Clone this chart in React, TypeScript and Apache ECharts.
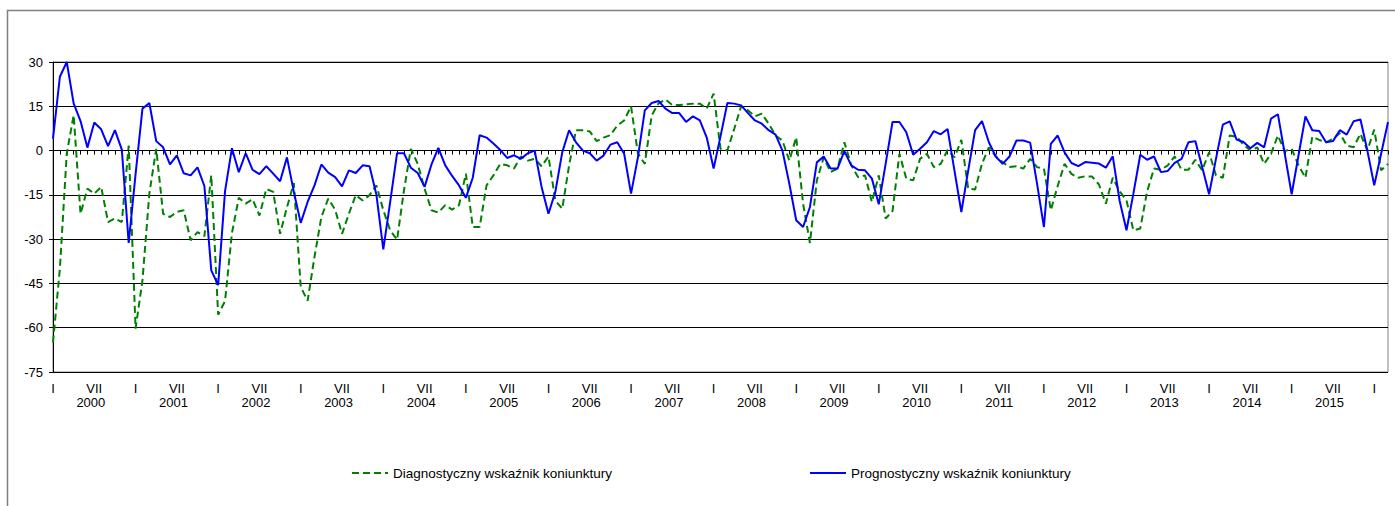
import React, { useEffect, useRef } from "react";
import * as echarts from "echarts";

// Years shown under the axis and month labels
const years = [2000, 2001, 2002, 2003, 2004, 2005, 2006, 2007, 2008, 2009, 2010, 2011, 2012, 2013, 2014, 2015];
const romanMonths = ["I", "II", "III", "IV", "V", "VI", "VII", "VIII", "IX", "X", "XI", "XII"];
const shownMonths = ["I", "VII"];
const firstYear = 2000;
const monthCount = 195; // I 2000 .. III 2016

const seriesNames = ["Diagnostyczny wskaźnik koniunktury", "Prognostyczny wskaźnik koniunktury"];

// Diagnostyczny (green, dashed)
const diagnostyczny = [
  -65, -40, -1, 12, -21.4, -12.9, -14.6, -12.3, -24.2, -23, -24.2, 1.7,
  -60.3, -44, -14.6, 0.6, -21.4, -22.5, -20.8, -20.2, -30.4, -27.6, -29, -8.4,
  -55.6, -51, -28, -16, -18, -16.5, -22, -13, -14, -28.2, -19.2, -11,
  -46.2, -50.9, -36, -22.5, -16.3, -20, -28.2, -21.4, -15.1, -16.9, -15.1, -11.8,
  -20.2, -27, -30.2, -13.5, 0.6, -4.5, -12.9, -20.2, -21, -18.5, -20, -18.5,
  -7.8, -25.9, -25.9, -11.8, -8.4, -4.5, -5, -6.1, -2, -3.4, -2.8, -5.3,
  -2, -16.9, -19.7, -5, 6.9, 6.9, 6.5, 3.2, 4.4, 5.2, 8.5, 10.2,
  15, -1, -4.5, 11.9, 16, 17.3, 15.4, 15.4, 15.7, 15.9, 15.9, 14.2,
  19.3, 0.6, 0, 7.4, 15, 13.6, 11.6, 12.5, 9.1, 5.1, 3.4, -3.4,
  4.5, -18, -31.3, -10.1, -2.3, -7.3, -6.1, 2.8, -5, -9, -8.4, -17.4,
  -8.4, -23, -20.5, -1.1, -9.5, -10.1, -2.8, -1.1, -5.6, -4.5, 0.2, -2.3,
  3.6, -12.9, -13.2, -4.5, 1.1, -2, -3.9, -5.6, -5.3, -6.1, -2.8, -5.6,
  -6.1, -20.2, -12, -4.5, -7.9, -9.2, -8.7, -8.8, -11.5, -18, -9.2, -13.8,
  -16.9, -27, -26.4, -13.8, -6.1, -6.5, -5, -2, -6.5, -6.5, -3.1, -6.7,
  -0.6, -8.4, -9.2, 5.1, 4.7, 2, 0, 1.1, -4.5, -1.1, 5.1, -0.2,
  0.6, -5, -9.2, 4.7, 3.6, 2.8, 4, 5.9, 1.7, 1.1, 5.7, 0,
  7.1, -6.7, -4.5,
];

// Prognostyczny (blue, solid)
const prognostyczny = [
  4, 25, 30, 16, 10, 1, 9.5, 7.2, 1.5, 6.9, 0.3, -31.3,
  -8, 14.2, 16.1, 3.2, 1.1, -4.7, -1.6, -7.7, -8.4, -5.7, -12, -40.6,
  -45.6, -13.8, 0.8, -7.3, -0.9, -6.5, -8, -5.3, -7.8, -10.4, -2.3, -14,
  -24.5, -17.4, -11.8, -4.7, -7.5, -9, -12.1, -6.7, -7.6, -5, -5.3, -15,
  -33.5, -17.4, -0.9, -0.9, -5.8, -7.6, -12.3, -4.7, 0.9, -5, -8.6, -11.8,
  -16, -9.2, 5.2, 4.4, 2.4, 0.2, -2.5, -1.6, -2.8, -0.9, 0, -12.3,
  -21.4, -14, -0.6, 6.9, 2.8, 0, -0.9, -3.4, -1.7, 2, 2.8, -1.1,
  -14.6, -2.3, 13.6, 16.1, 16.8, 14.2, 12.7, 12.7, 9.7, 11.6, 10.2, 4.4,
  -6.1, 4.8, 16.1, 15.9, 15.3, 12.7, 10.2, 9.1, 6.9, 5.4, 0, -11.2,
  -23.6, -25.9, -19.1, -4, -2, -6.1, -6.1, -0.2, -5, -6.5, -6.7, -9.5,
  -18.2, -4.5, 9.7, 9.7, 6.2, -1.4, 0.6, 2.8, 6.6, 5.5, 7.3, -6.8,
  -20.8, -6.7, 6.9, 10, 2.8, -2, -4.5, -2, 3.4, 3.4, 2.7, -11.2,
  -25.9, 2.3, 5.1, -0.6, -4.2, -5.3, -3.9, -4.1, -4.4, -5.8, -1.9, -17,
  -27, -14.6, -1.4, -3.1, -2, -7.3, -6.9, -4.2, -2.8, 2.8, 3.2, -5.6,
  -14.8, -2.8, 8.8, 9.9, 3.7, 2.9, 0.8, 2.6, 1.1, 10.8, 12.3, -1.1,
  -14.8, -1.6, 11.6, 6.9, 6.6, 2.8, 3.2, 6.9, 5.4, 9.9, 10.5, 0,
  -11.8, -1.1, 9.7,
];

const yTicks = { min: -75, max: 30, interval: 15 };

const FONT = "'Liberation Sans', Arial, sans-serif";

export default function App() {
  const ref = useRef<HTMLDivElement>(null);

  useEffect(() => {
    if (!ref.current) return;
    const chart = echarts.init(ref.current, undefined, { renderer: "svg" });

    const categories: string[] = [];
    for (let i = 0; i < monthCount; i++) {
      categories.push(`${firstYear + Math.floor(i / 12)}-${romanMonths[i % 12]}`);
    }
    const yearCenters = years.map((_, i) => i * 12 + 5.5);

    const legendBase = {
      top: 466,
      padding: 0,
      itemWidth: 36,
      itemHeight: 14,
      itemStyle: { opacity: 0 },
      textStyle: { fontFamily: FONT, fontSize: 13.5, color: "#000" },
    };

    const option: any = {
      animation: false,
      backgroundColor: "#ffffff",
      textStyle: { fontFamily: FONT },
      graphic: [
        {
          type: "rect",
          shape: { x: 7.5, y: 10.5, width: 1500, height: 700 },
          style: { fill: "none", stroke: "#808080", lineWidth: 1.5 },
          silent: true,
          z: -10,
        },
      ],
      grid: {
        left: 53,
        right: 7,
        top: 62,
        bottom: 134,
        show: true,
        borderColor: "#808080",
        borderWidth: 1,
        backgroundColor: "transparent",
      },
      legend: [
        { ...legendBase, data: [seriesNames[0]], left: 351 },
        { ...legendBase, data: [seriesNames[1]], left: 809 },
      ],
      xAxis: [
        {
          type: "category",
          data: categories,
          boundaryGap: false,
          axisLine: { show: true, lineStyle: { color: "#000", width: 1 } },
          axisTick: { show: true, interval: 0, length: 4, lineStyle: { color: "#000" } },
          axisLabel: {
            interval: 0,
            margin: 10,
            fontSize: 13,
            color: "#000",
            fontFamily: FONT,
            formatter: (v: string) => {
              const m = v.split("-")[1];
              return shownMonths.includes(m) ? m : "";
            },
          },
          splitLine: { show: false },
        },
        {
          type: "value",
          min: 0,
          max: monthCount - 1,
          position: "bottom",
          axisLine: { show: false },
          axisTick: { show: false },
          splitLine: { show: false },
          axisLabel: {
            customValues: yearCenters,
            margin: 24,
            fontSize: 13,
            color: "#000",
            fontFamily: FONT,
            formatter: (v: number) => {
              const idx = Math.round((v - 5.5) / 12);
              return years[idx] !== undefined ? String(years[idx]) : "";
            },
          },
        },
      ],
      yAxis: {
        type: "value",
        min: yTicks.min,
        max: yTicks.max,
        interval: yTicks.interval,
        axisLine: { show: true, lineStyle: { color: "#000", width: 1 } },
        axisTick: { show: true, length: 4, lineStyle: { color: "#000" } },
        axisLabel: { fontSize: 13, color: "#000", margin: 10, fontFamily: FONT },
        splitLine: { show: true, lineStyle: { color: "#000", width: 1 } },
      },
      series: [
        {
          name: seriesNames[0],
          type: "line",
          xAxisIndex: 0,
          data: diagnostyczny,
          symbol: "none",
          showSymbol: false,
          color: "#008000",
          lineStyle: { color: "#008000", width: 2, type: [7, 4] },
          z: 2,
        },
        {
          name: seriesNames[1],
          type: "line",
          xAxisIndex: 0,
          data: prognostyczny,
          symbol: "none",
          showSymbol: false,
          color: "#0000ff",
          lineStyle: { color: "#0000ff", width: 2 },
          z: 3,
        },
      ],
    };

    chart.setOption(option);
    return () => chart.dispose();
  }, []);

  return (
    <div
      ref={ref}
      style={{ position: "fixed", left: 0, top: 0, width: 1395, height: 506 }}
    />
  );
}
